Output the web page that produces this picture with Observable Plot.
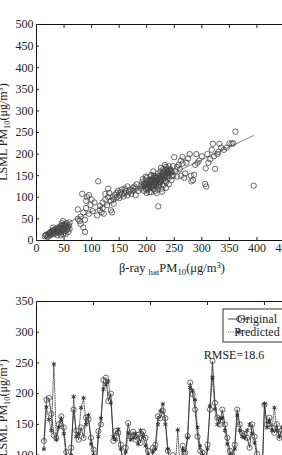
<!DOCTYPE html>
<html><head><meta charset="utf-8">
<script src="https://cdn.jsdelivr.net/npm/d3@7"></script>
<script src="https://cdn.jsdelivr.net/npm/@observablehq/plot@0.6"></script>
<style>
html,body{margin:0;padding:0;background:#fff;overflow:hidden;width:282px;height:455px}
#c{position:relative;width:282px;height:455px;overflow:hidden}
svg{display:block;max-width:none!important}
</style>
</head><body><div id="c"></div>
<script>
// ---- scatter (top) ----
const scatterX = [
15,18,20,22,25,27,28,30,32,33,35,36,38,40,40,42,43,45,45,46,47,48,50,50,52,53,55,55,57,58,60,60,48,38,30,25,44,
17,21,24,26,29,31,34,37,39,41,44,47,49,51,54,56,59,
75,75,78,80,80,83,85,85,88,88,90,90,92,95,95,98,100,102,105,
110,112,115,115,118,120,120,122,125,125,128,130,130,132,135,135,137,138,140,140,142,
145,145,148,150,150,152,155,155,158,160,160,162,165,165,168,170,172,175,175,178,180,180,182,185,
190,192,195,195,198,200,200,200,202,203,205,205,207,208,210,210,210,212,213,215,215,217,218,220,220,220,222,223,225,225,225,227,228,230,230,230,232,233,235,235,237,238,240,240,240,242,243,245,245,248,198,205,212,218,228,235,200,215,222,190,193,208,226,233,
196,204,209,214,219,224,229,234,239,244,201,206,211,216,221,226,231,236,241,246,
194,197,199,203,206,209,211,214,217,219,223,227,231,234,238,242,236,229,213,207,
250,252,255,258,260,262,265,268,270,272,275,278,280,281,284,286,288,290,292,295,255,262,248,265,
300,306,307,308,310,312,315,320,322,324,328,332,335,340,350,354,357,361,221,394,318,330,345];
const scatterY = [
10,14,8,15,12,18,22,15,25,20,18,28,22,25,30,18,33,20,27,40,35,45,22,30,38,15,25,40,32,20,27,42,15,12,30,20,12,
12,10,17,14,20,24,16,25,19,28,30,24,36,18,33,28,35,
50,72,45,55,38,108,65,30,20,48,92,75,100,62,105,82,95,68,88,
58,137,70,80,65,88,75,62,95,108,82,120,100,110,92,70,65,100,95,85,105,
100,110,115,105,98,112,108,118,102,110,120,115,105,125,112,118,108,122,115,125,120,105,130,115,
120,135,128,115,140,125,132,145,118,138,122,130,148,112,128,135,142,120,150,130,138,125,145,132,155,118,140,128,148,160,135,120,152,140,165,128,158,145,170,135,150,162,145,172,130,155,165,140,150,172,148,112,160,110,113,122,110,115,125,128,142,152,168,175,
130,127,137,133,140,143,147,152,157,160,122,140,125,145,150,138,160,148,163,158,
125,132,118,130,136,126,140,128,135,147,136,142,150,138,158,162,165,155,146,133,
193,160,148,175,165,185,178,145,155,180,190,200,150,137,140,152,175,200,180,185,170,150,150,193,
195,131,167,125,200,180,188,224,195,166,200,224,215,210,225,224,225,252,79,127,210,205,215];
const scatterXTicks = [0,50,100,150,200,250,300,350,400,450];
const scatterYTicks = [0,50,100,150,200,250,300,350,400,450,500];

// ---- time series (bottom) ----
const seriesStart = 3;
const originalValues = [
123,190,193,167,132,128,150,163,145,105,
70,112,174,140,125,145,128,161,158,128,
109,75,139,150,222,226,188,200,123,139,
136,117,80,112,152,130,138,125,133,120,
138,128,107,70,112,117,163,160,172,160,
107,80,100,70,85,60,115,104,131,218,
199,174,130,107,104,70,117,174,253,185,
161,150,174,150,128,107,100,117,174,150,
136,134,128,112,150,130,102,70,60,182,
150,161,145,136,150,128,140];
const predictedValues = [
110,178,158,140,248,125,145,158,135,95,
75,100,195,130,135,177,193,150,165,118,
100,80,130,160,207,215,220,185,130,125,
142,110,90,105,136,125,128,135,118,140,
130,115,100,75,105,110,150,172,183,150,
110,85,95,80,141,70,108,95,128,210,
205,190,145,115,100,75,110,180,226,175,
150,160,160,140,118,100,90,110,165,140,
130,128,140,150,135,120,95,80,65,183,
145,155,140,177,140,130,145];
const seriesXTicks = [0,23,46,69,92];
const seriesYTicks = [0,50,100,150,200,250,300,350];
const legendLabels = ["Original","Predicted"];
const rmseText = "RMSE=18.6";

const yLabelParts = [["LSML PM",null],["10","sub"],["(μg/m",null],["3","sup"],[")",null]];
const xLabelParts = [["β-ray ",null],["hat","sub"],["PM",null],["10","sub"],["(μg/m",null],["3","sup"],[")",null]];

const FONT = "Liberation Serif, Times New Roman, serif";
const INK = "#222";

const scatterData = scatterX.map((x,i)=>({x, y: scatterY[i]}));
const seriesData = originalValues.map((v,i)=>({t: i+seriesStart, o: v, p: predictedValues[i]}));

function richText(sel, parts, size){
  const t = sel.append("text").attr("font-family",FONT).attr("font-size",size).attr("fill",INK);
  let shift = 0;
  for (const [s,kind] of parts){
    const target = kind==="sub" ? 3 : kind==="sup" ? -4.5 : 0;
    t.append("tspan").attr("dy", target-shift).attr("font-size", kind ? size*0.7 : size).text(s);
    shift = target;
  }
  return t;
}

const scatterPlot = Plot.plot({
  width: 300, height: 280,
  marginLeft: 36, marginRight: 16, marginTop: 24, marginBottom: 40,
  style: {fontFamily: FONT, fontSize: "12px", color: INK, background: "white"},
  x: {domain: [0,450]},
  y: {domain: [0,500]},
  marks: [
    Plot.frame({stroke: "#111", strokeWidth: 1}),
    Plot.axisX({ticks: scatterXTicks, tickSize: -3, tickPadding: 6, label: null}),
    Plot.axisX({anchor: "top", ticks: scatterXTicks, tickSize: -3, tickFormat: () => "", label: null}),
    Plot.axisY({ticks: scatterYTicks, tickSize: -3, tickPadding: 6, label: null}),
    Plot.linearRegressionY(scatterData, {x: "x", y: "y", ci: 0, stroke: "#888", strokeWidth: 1}),
    Plot.dot(scatterData, {x: "x", y: "y", r: 2.7, stroke: "#444", strokeWidth: 0.8, fill: "none"})
  ]
});

const seriesPlot = Plot.plot({
  width: 320, height: 276,
  marginLeft: 36, marginRight: 11.4, marginTop: 21, marginBottom: 40,
  style: {fontFamily: FONT, fontSize: "12px", color: INK, background: "white"},
  x: {domain: [0,110]},
  y: {domain: [0,350]},
  marks: [
    Plot.frame({stroke: "#111", strokeWidth: 1}),
    Plot.axisX({ticks: seriesXTicks, tickSize: -3, tickPadding: 6, label: null}),
    Plot.axisX({anchor: "top", ticks: seriesXTicks, tickSize: -3, tickFormat: () => "", label: null}),
    Plot.axisY({ticks: seriesYTicks, tickSize: -3, tickPadding: 6, label: null}),
    Plot.line(seriesData, {x: "t", y: "p", stroke: "#444", strokeWidth: 0.9, strokeDasharray: "1,1.3"}),
    Plot.line(seriesData, {x: "t", y: "o", stroke: "#333", strokeWidth: 0.9}),
    Plot.dot(seriesData, {x: "t", y: "o", r: 2.6, stroke: "#444", strokeWidth: 0.8, fill: "none"}),
    Plot.dot(seriesData, {x: "t", y: "p", r: 2.2, symbol: "asterisk", stroke: "#333", strokeWidth: 1})
  ]
});

const c = document.getElementById("c");
c.appendChild(scatterPlot);
c.appendChild(seriesPlot);

// axis titles
const ts = d3.select(scatterPlot);
richText(ts.append("g").attr("transform","translate(7,132) rotate(-90)"), yLabelParts, 12).attr("text-anchor","middle");
richText(ts.append("g").attr("transform","translate(172,272)"), xLabelParts, 12.5).attr("text-anchor","middle");

const bs = d3.select(seriesPlot);
richText(bs.append("g").attr("transform","translate(7,128) rotate(-90)"), yLabelParts, 12).attr("text-anchor","middle");

// legend
const lg = bs.append("g");
lg.append("rect").attr("x",223).attr("y",29).attr("width",90).attr("height",33).attr("fill","white").attr("stroke","#333").attr("stroke-width",1);
lg.append("line").attr("x1",228).attr("x2",250).attr("y1",39).attr("y2",39).attr("stroke","#333").attr("stroke-width",0.9);
lg.append("circle").attr("cx",239).attr("cy",39).attr("r",2.6).attr("fill","white").attr("stroke","#444").attr("stroke-width",0.8);
lg.append("line").attr("x1",228).attr("x2",250).attr("y1",52).attr("y2",52).attr("stroke","#444").attr("stroke-width",0.9).attr("stroke-dasharray","1,1.3");
lg.append("path").attr("transform","translate(239,52)").attr("d", d3.symbol(d3.symbolAsterisk, 28)()).attr("stroke","#333").attr("stroke-width",1).attr("fill","none");
lg.append("text").attr("x",257).attr("y",43).attr("font-family",FONT).attr("font-size",12).attr("fill",INK).text(legendLabels[0]);
lg.append("text").attr("x",257).attr("y",56).attr("font-family",FONT).attr("font-size",12).attr("fill",INK).text(legendLabels[1]);
bs.append("text").attr("x",234).attr("y",79).attr("font-family",FONT).attr("font-size",12).attr("fill",INK).text(rmseText);
</script>
</body></html>
